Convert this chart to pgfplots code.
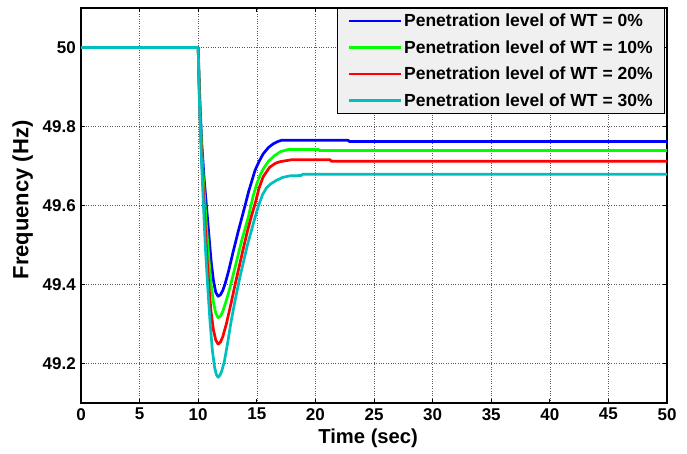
\documentclass[border=0pt]{standalone}
\usepackage{fontspec}
\setmainfont{Liberation Sans}
\usepackage{pgfplots}
\pgfplotsset{compat=1.18}
\definecolor{mblue}{RGB}{0,0,255}
\definecolor{mgreen}{RGB}{0,255,0}
\definecolor{mred}{RGB}{255,0,0}
\definecolor{mcyan}{RGB}{0,191,191}
\begin{document}
\begin{tikzpicture}
\begin{axis}[
  name=ax,
  scale only axis,
  width=586pt, height=395pt,
  xmin=0, xmax=50, ymin=49.1, ymax=50.1,
  xtick={0,5,10,15,20,25,30,35,40,45,50},
  xticklabels={0,5,10,15,20,25,30,35,40,45,50},
  ytick={49.2,49.4,49.6,49.8,50},
  yticklabels={49.2,49.4,49.6,49.8,50},
  /pgf/number format/assume math mode=true,
  ticklabel style={font=\bfseries\fontsize{17}{20}\selectfont},
  xticklabel style={inner sep=0pt, yshift=-5pt},
  yticklabel style={inner sep=0pt, xshift=-5pt},
  tick align=inside,
  major tick length=4pt,
  tick style={black, line width=0.7pt},
  axis line style={black, line width=1.1pt},
  grid=major,
  major grid style={black!65, dotted, line width=0.6pt},
  xlabel={Time (sec)},
  ylabel={Frequency (Hz)},
  xlabel style={font=\bfseries\fontsize{20.2}{24}\selectfont, at={(axis description cs:0.49,-0.0886)}, anchor=center},
  ylabel style={font=\bfseries\fontsize{22}{26}\selectfont, at={(axis description cs:-0.0995,0.514)}, anchor=center, rotate=0},
  legend style={at={(rel axis cs:0.9966,1)}, anchor=north east, fill=black!6, draw=black, line width=0.8pt,
    font=\bfseries\fontsize{17.5}{20}\selectfont, inner xsep=10pt, inner ysep=4pt, row sep=9pt,
    nodes={inner sep=2pt, text height=12.5pt, text depth=1pt},
    /tikz/every even column/.style={column sep=8pt}},
  legend cell align=left,
  legend image code/.code={\draw[#1, line width=2.7pt] (0pt,0pt) -- (52pt,0pt);},
  every axis plot/.append style={line width=2.7pt, line join=round},
]
\addplot[mblue] coordinates {(0,50) (10,50) (10.05,49.95) (10.15,49.86) (10.3,49.76) (10.5,49.67) (10.7,49.6) (10.9,49.53) (11.1,49.46) (11.3,49.41) (11.5,49.38) (11.7,49.37) (11.9,49.374) (12.1,49.385) (12.3,49.402) (12.6,49.435) (13.0,49.485) (13.42,49.535) (14.0,49.6) (14.3,49.635) (14.85,49.689) (15.2,49.712) (15.55,49.731) (16.0,49.747) (16.4,49.756) (16.8,49.762) (17.1,49.765) (22.8,49.765) (22.9,49.762) (50,49.762)};
\addlegendentry{Penetration level of WT = 0\%}
\addplot[mgreen] coordinates {(0,50) (10,50) (10.05,49.94) (10.15,49.85) (10.3,49.74) (10.5,49.64) (10.7,49.55) (10.9,49.47) (11.1,49.4) (11.3,49.355) (11.5,49.327) (11.7,49.316) (11.9,49.32) (12.1,49.332) (12.35,49.355) (12.6,49.38) (12.8,49.403) (13.2,49.45) (13.7,49.51) (14.27,49.57) (14.5,49.6) (14.7,49.625) (15.0,49.655) (15.3,49.678) (15.6,49.695) (16.0,49.712) (16.5,49.726) (17.0,49.736) (17.7,49.742) (20.25,49.742) (20.35,49.739) (50,49.739)};
\addlegendentry{Penetration level of WT = 10\%}
\addplot[mred] coordinates {(0,50) (10,50) (10.05,49.93) (10.15,49.83) (10.3,49.72) (10.5,49.6) (10.7,49.49) (10.9,49.4) (11.1,49.33) (11.3,49.285) (11.5,49.259) (11.7,49.249) (11.9,49.254) (12.1,49.268) (12.4,49.3) (12.8,49.352) (13.15,49.4) (13.8,49.485) (14.2,49.535) (14.56,49.575) (14.85,49.604) (15.2,49.645) (15.55,49.673) (16.1,49.697) (16.6,49.707) (17.0,49.711) (18.0,49.716) (21.25,49.716) (21.35,49.712) (50,49.712)};
\addlegendentry{Penetration level of WT = 20\%}
\addplot[mcyan] coordinates {(0,50) (10,50) (10.05,49.92) (10.15,49.82) (10.3,49.7) (10.45,49.6) (10.6,49.5) (10.8,49.4) (11.0,49.31) (11.2,49.235) (11.4,49.19) (11.55,49.172) (11.7,49.165) (11.85,49.17) (12.0,49.18) (12.23,49.205) (12.5,49.25) (12.8,49.305) (13.15,49.36) (13.57,49.42) (14.2,49.5) (14.85,49.57) (15.15,49.6) (15.5,49.628) (15.84,49.645) (16.2,49.655) (16.7,49.664) (17.2,49.671) (17.8,49.675) (18.8,49.676) (18.9,49.679) (50,49.679)};
\addlegendentry{Penetration level of WT = 30\%}
\end{axis}
\path (ax.south west) ++(-81pt,-51pt) coordinate (bb1);
\path (ax.north east) ++(20pt,8pt) coordinate (bb2);
\path (bb1) rectangle (bb2);
\end{tikzpicture}
\end{document}
